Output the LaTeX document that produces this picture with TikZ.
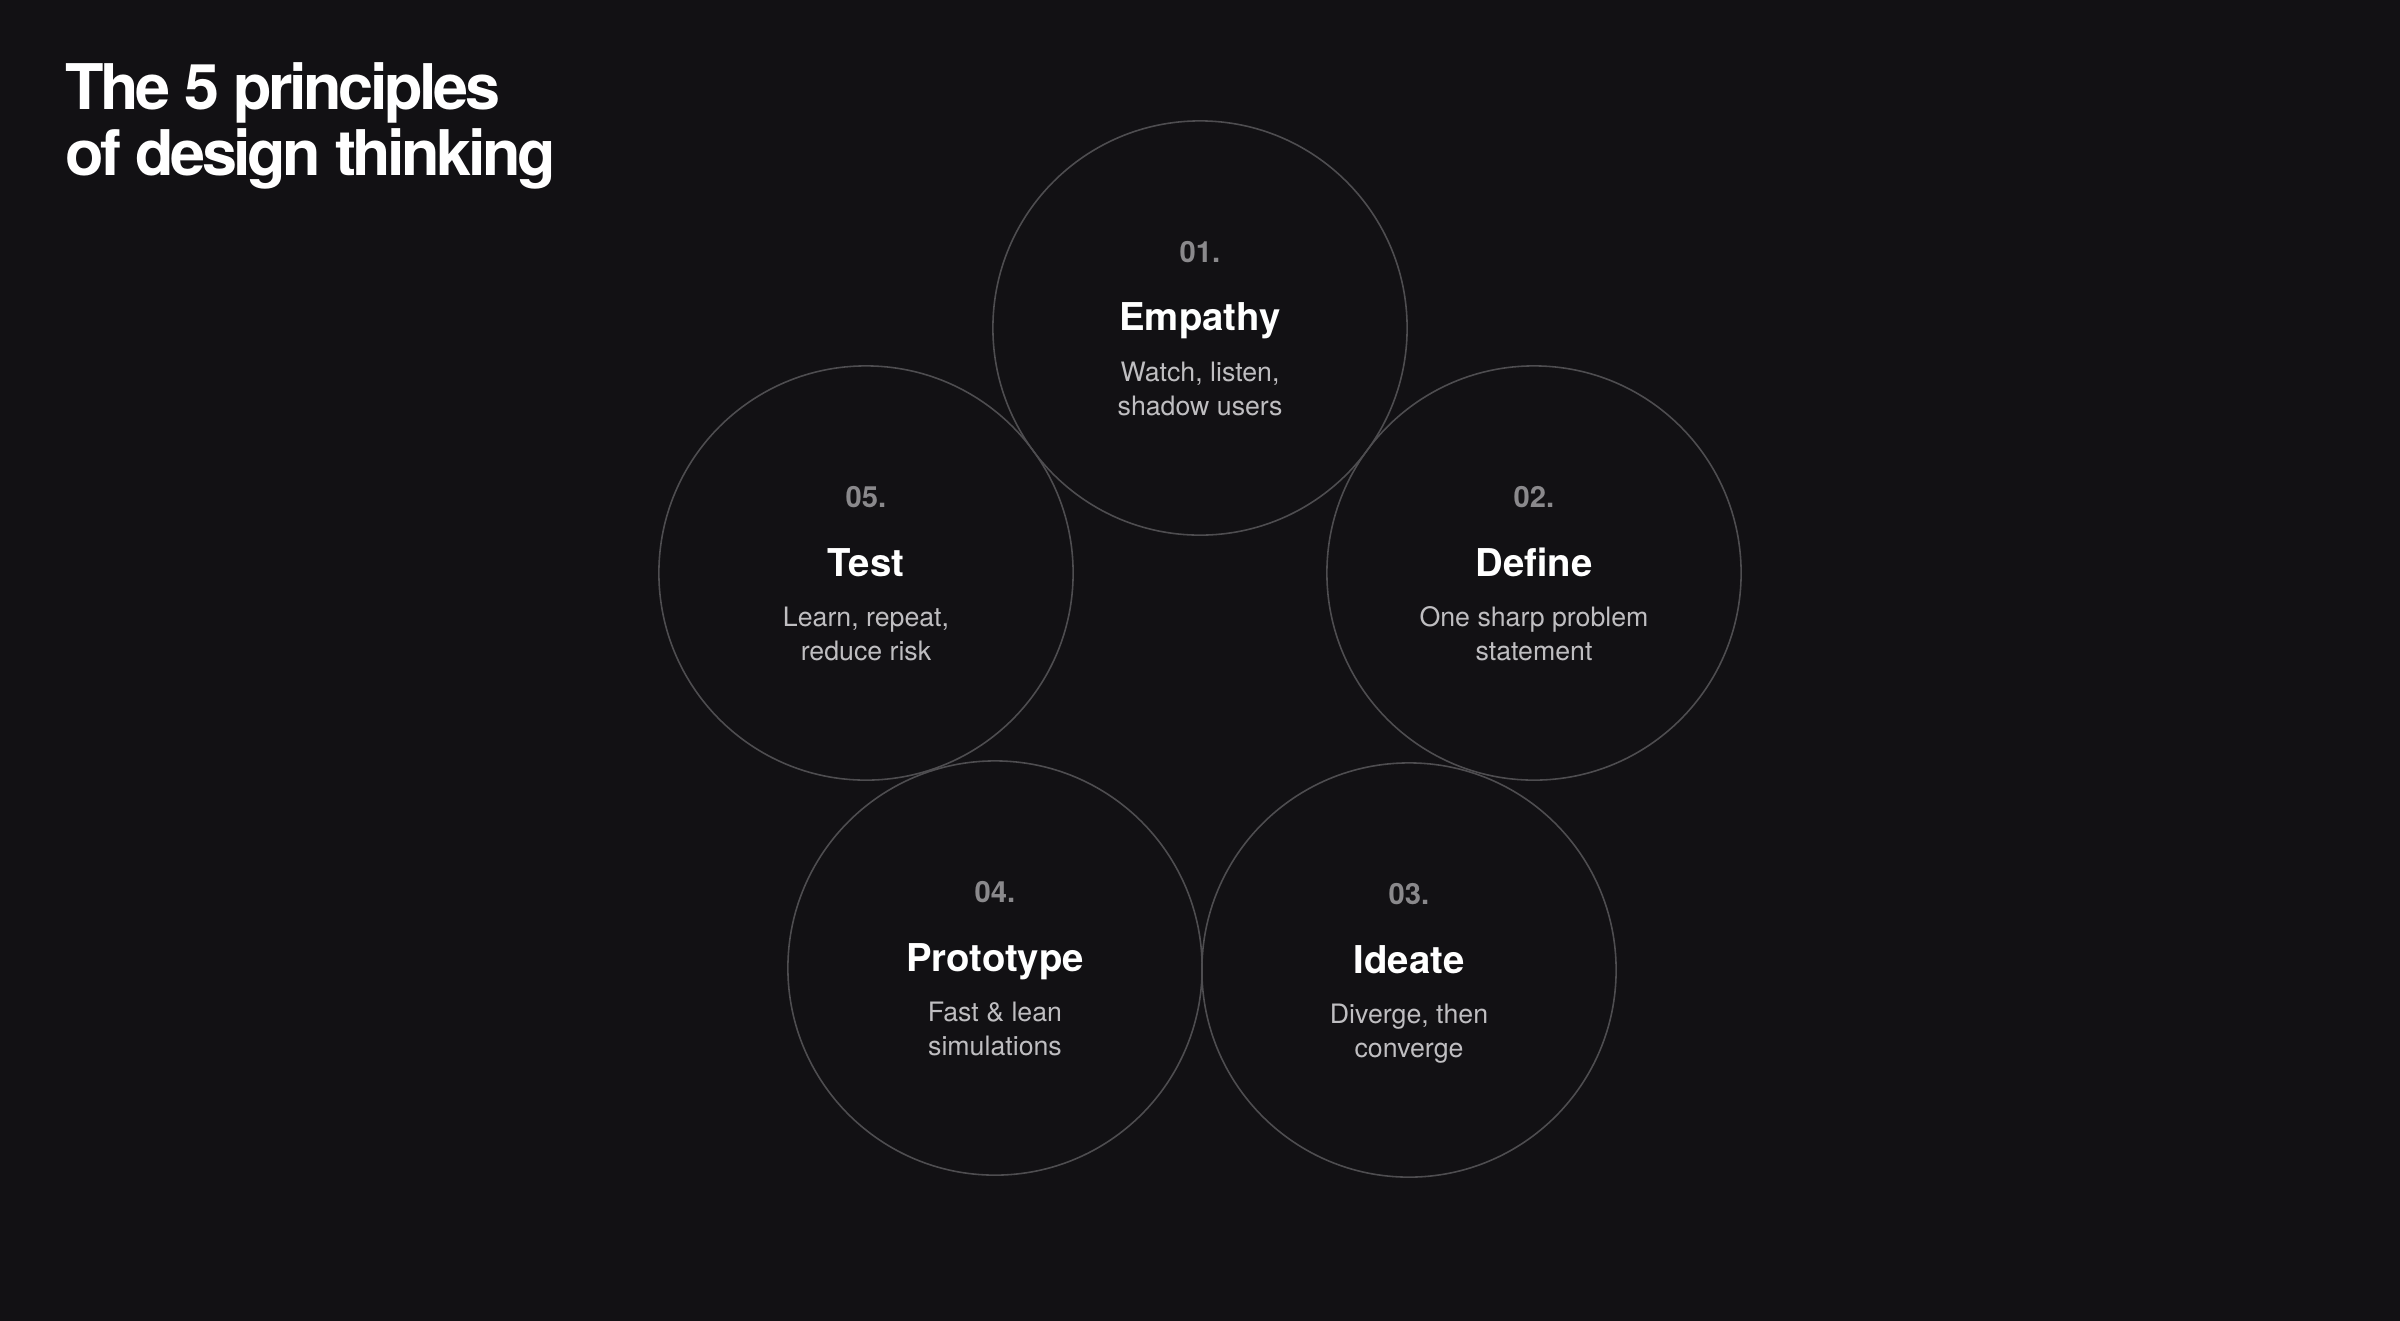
\documentclass[tikz,border=0pt]{standalone}
\usepackage{fontspec}
\setmainfont{TeX Gyre Heros}
\newfontfamily\headfont[LetterSpace=-5.5]{TeX Gyre Heros}
\definecolor{bg}{HTML}{121114}
\definecolor{ringline}{HTML}{4E4D50}
\definecolor{numgray}{HTML}{8A898C}
\definecolor{descgray}{HTML}{BFBEC1}

\begin{document}
\begin{tikzpicture}[x=0.01cm,y=-0.01cm,
  ring/.style={circle,draw=ringline,line width=0.45pt,minimum size=4.14cm,inner sep=0pt},
  num/.style={anchor=base,inner sep=0pt,text=numgray,font=\fontsize{8.3}{10}\selectfont\bfseries},
  stage/.style={anchor=base,inner sep=0pt,text=white,font=\fontsize{10.9}{12}\selectfont\bfseries},
  desc/.style={anchor=base,inner sep=0pt,align=center,text=descgray,font=\fontsize{7.6}{9.5}\selectfont}]
\useasboundingbox (0,0) rectangle (2400,1320);
\fill[bg] (-10,-10) rectangle (2410,1330);
\node[anchor=base west,inner sep=0pt,align=left,text=white,font=\headfont\fontsize{17.9}{18.5}\selectfont\bfseries] (heading) at (65,175) {The 5 principles\\of design thinking};

% circles
\node[ring] (empathy) at (1200,328) {};
\node[ring] (define) at (1534,573) {};
\node[ring] (ideate) at (1409,970) {};
\node[ring] (prototype) at (995,968) {};
\node[ring] (test) at (866,573) {};

% 01
\node[num] (empathy-num) at (1200,262) {01.};
\node[stage] (empathy-name) at (1200,330) {Empathy};
\node[desc] (empathy-text) at (1200,415) {Watch, listen,\\shadow users};
% 02
\node[num] (define-num) at (1534,507) {02.};
\node[stage] (define-name) at (1534,576) {Define};
\node[desc] (define-text) at (1534,660) {One sharp problem\\statement};
% 03
\node[num] (ideate-num) at (1409,904) {03.};
\node[stage] (ideate-name) at (1409,973) {Ideate};
\node[desc] (ideate-text) at (1409,1057) {Diverge, then\\converge};
% 04
\node[num] (prototype-num) at (995,902) {04.};
\node[stage] (prototype-name) at (995,971) {Prototype};
\node[desc] (prototype-text) at (995,1055) {Fast \& lean\\simulations};
% 05
\node[num] (test-num) at (866,507) {05.};
\node[stage] (test-name) at (866,576) {Test};
\node[desc] (test-text) at (866,660) {Learn, repeat,\\reduce risk};
\end{tikzpicture}
\end{document}
